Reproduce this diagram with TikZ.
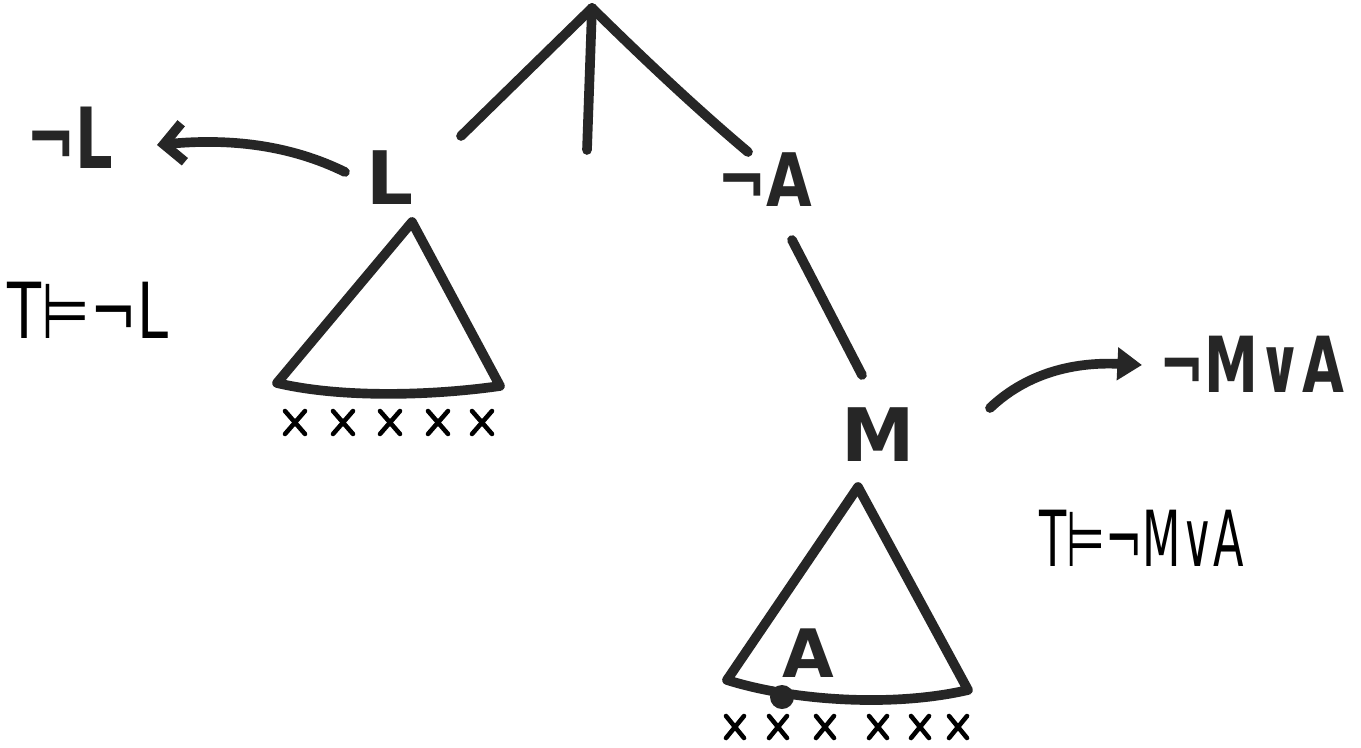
\documentclass[tikz,border=0pt]{standalone}
\usepackage{fontspec}
\setmainfont{DejaVu Sans}
\usetikzlibrary{arrows.meta}
\begin{document}
\begin{tikzpicture}[x=0.02cm,y=-0.02cm,
  stroke/.style={line width=5.5pt, line cap=round, line join=round, black!85},
  thinx/.style={line width=2.6pt, line cap=round, black},
  big/.style={font=\bfseries\fontsize{42}{42}\selectfont, inner sep=0pt, black!85},
  hand/.style={font=\fontsize{44}{44}\selectfont, inner sep=0pt, xscale=0.72, transform shape}]
\useasboundingbox[fill=white] (0,0) rectangle (1361,747);

% labels
\node[big] (L) at (390,178) {L};
\node[big, xscale=0.8, transform shape] (nA) at (765,180) {¬A};
\node[big] (M) at (878,435) {M};
\node[big, font=\bfseries\fontsize{48}{48}\selectfont, xscale=0.7, transform shape] (nL) at (70,138) {¬L};
\node[big, font=\bfseries\fontsize{44}{44}\selectfont, xscale=0.7, transform shape] (nMA) at (1252,364) {¬M∨A};
\node[big, font=\bfseries\fontsize{38}{38}\selectfont] (A) at (808,653) {A};
\node[hand] (TL) at (88,310) {T⊨¬L};
\node[hand, xscale=0.8] (TMA) at (1142,538) {T⊨¬M∨A};

% tree
\coordinate (root) at (592,8);
\coordinate (eL) at (461,136);
\coordinate (eC) at (587,150);
\coordinate (eA) at (748,152);
\draw[stroke] (root) -- (eL);
\draw[stroke] (root) -- (eC);
\draw[stroke] (root) .. controls (660,75) and (710,120) .. (eA);
\coordinate (nAs) at (792,240);
\coordinate (nAe) at (862,375);
\draw[stroke] (nAs) -- (nAe);

% left triangle
\coordinate (t1) at (412,222);
\coordinate (t1l) at (277,383);
\coordinate (t1r) at (500,386);
\draw[stroke] (t1r) -- (t1) -- (t1l) .. controls (340,398) and (430,396) .. (t1r);

% right triangle
\coordinate (t2) at (858,487);
\coordinate (t2l) at (727,680);
\coordinate (t2r) at (968,690);
\draw[stroke] (t2r) -- (t2) -- (t2l) .. controls (790,700) and (890,708) .. (t2r);
\fill[black!85] (782,697) circle (12);

% crosses
\foreach \x in {295,343,390,438,482}
  \draw[thinx] ({\x-10},{411}) -- ({\x+10},{434}) ({\x-10},{434}) -- ({\x+10},{411});
\foreach \x in {735,778,825,878,920,958}
  \draw[thinx] ({\x-9},{716}) -- ({\x+9},{738}) ({\x-9},{738}) -- ({\x+9},{716});

% arrows
\coordinate (a1s) at (345,172);
\coordinate (a1e) at (157,145);
\draw[stroke, -{Straight Barb[length=11pt,width=22pt,line width=5.5pt]}]
  (a1s) .. controls (290,145) and (230,138) .. (a1e);
\coordinate (a2s) at (990,408);
\coordinate (a2e) at (1142,365);
\draw[stroke, -{Triangle[length=14pt,width=18pt]}]
  (a2s) .. controls (1030,370) and (1080,362) .. (a2e);
\end{tikzpicture}
\end{document}
